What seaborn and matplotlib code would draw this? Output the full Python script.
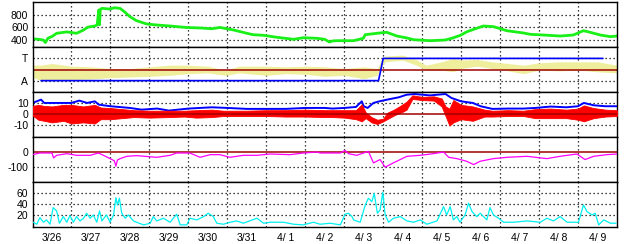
import matplotlib
matplotlib.use("Agg")
import matplotlib.pyplot as plt
import seaborn as sns

# ---------------- data (x in days since 3/26 00:00) ----------------
date_labels = ["3/26", "3/27", "3/28", "3/29", "3/30", "3/31", "4/ 1", "4/ 2",
               "4/ 3", "4/ 4", "4/ 5", "4/ 6", "4/ 7", "4/ 8", "4/ 9"]

# solar wind speed (green)
speed_t = [0.0, 0.15, 0.28, 0.33, 0.40, 0.50, 0.62, 0.88, 1.13, 1.30, 1.43, 1.60, 1.66,
           1.70, 1.72, 1.74, 1.78, 1.99, 2.10, 2.25, 2.37, 2.50, 2.67, 2.93, 3.19, 3.53,
           3.96, 4.30, 4.60, 4.81, 5.16, 5.50, 5.66, 5.93, 6.27, 6.70, 6.95, 7.30, 7.50,
           7.62, 7.70, 7.81, 8.24, 8.49, 8.54, 8.84, 9.09, 9.35, 9.61, 9.78, 10.20,
           10.59, 10.76, 10.98, 11.15, 11.40, 11.57, 11.83, 12.17, 12.60, 12.77, 13.11,
           13.54, 13.88, 14.14, 14.31, 14.57, 14.83, 15.0]
speed_v = [418, 412, 400, 360, 430, 455, 506, 528, 506, 555, 605, 621, 640,
           874, 640, 880, 900, 888, 910, 898, 840, 768, 705, 653, 637, 621,
           597, 590, 578, 598, 558, 506, 484, 474, 443, 411, 436, 427, 411,
           368, 385, 389, 389, 427, 484, 506, 522, 463, 432, 405, 389,
           400, 427, 474, 531, 585, 621, 611, 547, 511, 490, 479,
           463, 479, 547, 522, 479, 453, 463]

# IMF angle band (yellow), T = 1, A = -1
phi_t = [0.0, 0.2, 0.5, 1.0, 1.5, 2.0, 2.5, 3.0, 3.5, 4.0, 4.5, 4.95, 5.3, 6.0, 6.5,
         7.0, 7.5, 8.0, 8.5, 8.85, 8.95, 9.05, 9.5, 9.85, 10.1, 10.5, 10.8, 11.0,
         11.4, 11.8, 12.2, 12.6, 13.0, 13.5, 14.0, 14.5, 15.0]
phi_hi = [0.39, 0.39, 0.54, 0.30, 0.24, 0.09, 0.09, 0.24, 0.39, 0.39, 0.30, -0.06, 0.30,
          0.30, 0.24, 0.30, 0.24, 0.09, 0.24, 0.09, 0.85, 1.21, 1.30, 0.90, 0.39, 0.69,
          1.00, 0.85, 0.90, 0.69, 0.54, 0.39, 0.60, 0.69, 0.69, 0.69, 0.39]
phi_lo = [-0.67, -0.97, -0.91, -0.91, -0.85, -0.73, -0.67, -0.61, -0.52, -0.37, -0.30,
          -0.52, -0.30, -0.52, -0.37, -0.43, -0.61, -0.52, -0.82, -0.52, 0.24, 0.69,
          0.85, 0.39, -0.06, -0.06, -0.20, 0.09, 0.30, 0.09, -0.12, -0.37, -0.06,
          -0.12, -0.06, -0.20, -0.30]

# sector (blue step line)
sector_t = [0.22, 8.88, 9.0, 14.64]
sector_v = [-1, -1, 1, 1]

# Bt (blue)
bt_t = [0.0, 0.22, 0.30, 0.60, 1.0, 1.2, 1.4, 1.6, 1.7, 2.0, 2.5, 2.8, 3.2, 3.5, 4.0,
        4.3, 4.6, 5.0, 5.5, 6.0, 6.5, 7.0, 7.5, 7.7, 8.0, 8.3, 8.45, 8.5, 8.6, 8.75,
        8.9, 9.1, 9.4, 9.6, 9.8, 10.2, 10.6, 10.75, 11.0, 11.3, 11.5, 11.8, 12.2,
        12.6, 12.9, 13.3, 13.7, 14.0, 14.15, 14.4, 14.7, 15.0]
bt_v = [10.3, 13.4, 10.3, 10.3, 10.3, 12.5, 10.3, 11.8, 8.7, 7.2, 5.6, 4.0, 5.0, 3.1,
        5.0, 5.6, 6.2, 5.6, 4.7, 4.7, 4.7, 5.6, 5.6, 5.0, 5.6, 6.5, 11.8, 7.2, 5.6,
        10.3, 11.8, 13.4, 15.6, 18.0, 18.7, 17.4, 18.7, 15.0, 11.8, 10.3, 7.2, 4.7,
        5.0, 5.0, 5.6, 6.9, 6.2, 7.2, 10.3, 8.1, 7.2, 7.2]

# Bz band (red)
bz_t = [0.0, 0.15, 0.3, 0.5, 0.8, 1.0, 1.3, 1.6, 1.75, 2.0, 2.3, 2.6, 3.0, 3.5, 3.9,
        4.2, 4.6, 4.9, 5.5, 6.0, 6.5, 7.0, 7.5, 7.7, 8.0, 8.3, 8.45, 8.55, 8.7, 8.85,
        9.0, 9.1, 9.3, 9.5, 9.6, 9.75, 10.0, 10.3, 10.5, 10.6, 10.7, 10.8, 11.0,
        11.3, 11.6, 11.8, 12.2, 12.6, 12.9, 13.3, 13.7, 14.0, 14.15, 14.4, 14.7, 15.0]
bz_hi = [7.5, 8.5, 7.5, 7.0, 8.5, 8.5, 7.0, 8.5, 6.0, 5.5, 4.5, 3.5, 3.0, 3.0, 3.0,
         3.5, 4.0, 3.0, 3.0, 3.5, 3.5, 4.0, 3.5, 3.5, 3.5, 3.5, 9.0, 1.5, -3.0, -5.5,
         -4.5, 1.0, 4.5, 9.0, 11.5, 17.5, 16.0, 16.5, 14.5, 7.0, 5.0, 13.0, 8.5,
         7.0, 4.0, 3.0, 3.5, 3.0, 4.5, 5.0, 4.0, 5.0, 8.0, 5.5, 4.0, 3.5]
bz_lo = [-1.5, -5.5, -6.5, -8.0, -6.5, -9.0, -8.0, -9.0, -5.0, -5.0, -4.0, -3.0,
         -3.5, -3.0, -2.5, -3.5, -3.0, -2.0, -2.0, -2.0, -2.5, -2.5, -3.0, -3.0, -3.5,
         -5.0, -7.0, -4.0, -8.0, -9.5, -7.0, -5.0, -1.0, 2.0, 4.0, 14.0, 13.0, 12.5,
         7.0, -2.0, -11.0, -8.0, -5.0, -6.5, -2.5, -2.5, -2.0, -2.0, -4.0, -4.0,
         -4.0, -5.5, -7.0, -4.0, -2.5, -2.0]

# Dst (magenta)
dst_t = [0.0, 0.19, 0.45, 0.50, 0.54, 0.62, 0.88, 1.13, 1.48, 1.69, 1.82, 1.99, 2.10,
         2.14, 2.18, 2.25, 2.42, 2.67, 3.19, 3.53, 3.70, 4.04, 4.30, 4.56, 4.81, 5.07,
         5.41, 5.76, 6.10, 6.61, 6.95, 7.30, 7.38, 7.90, 8.02, 8.11, 8.32, 8.62, 8.75,
         8.92, 9.05, 9.26, 9.61, 9.95, 10.29, 10.55, 10.68, 10.89, 11.14, 11.32,
         11.49, 11.83, 12.18, 12.69, 13.20, 13.54, 13.97, 14.18, 14.40, 14.74, 15.0]
dst_v = [-19.6, -8.7, -8.7, -8.7, -41.3, -23.9, -13.0, -23.9, -23.9, -8.7, -23.9,
         -45.7, -60.0, -95.7, -55.0, -45.7, -30.4, -26.0, -37.0, -23.9, -8.7, -8.7,
         -37.0, -19.6, -19.6, -37.0, -23.9, -23.9, -15.2, -19.6, -8.7, -2.2, -8.7,
         -8.7, 8.7, -13.0, -23.9, 2.2, -74.0, -52.0, -102.0, -74.0, -30.4, -23.9,
         -13.0, -2.2, -37.0, -45.7, -63.0, -85.0, -63.0, -45.7, -37.0, -30.4, -45.7,
         -30.4, -15.2, -52.0, -30.4, -19.6, -15.2]

# activity index (cyan)
ae_t = [0.02, 0.11, 0.19, 0.28, 0.36, 0.45, 0.53, 0.62, 0.69, 0.79, 0.88, 0.96, 1.05,
        1.13, 1.22, 1.31, 1.39, 1.48, 1.56, 1.65, 1.72, 1.78, 1.90, 1.99, 2.08, 2.14,
        2.18, 2.23, 2.29, 2.38, 2.46, 2.59, 2.67, 2.85, 3.02, 3.10, 3.19, 3.36, 3.53,
        3.70, 3.79, 3.96, 4.04, 4.22, 4.39, 4.51, 4.64, 4.73, 4.90, 5.07, 5.24, 5.41,
        5.76, 5.93, 6.10, 6.44, 6.70, 6.95, 7.21, 7.38, 7.64, 7.90, 8.02, 8.11, 8.20,
        8.24, 8.41, 8.54, 8.62, 8.71, 8.77, 8.85, 8.92, 8.99, 9.05, 9.14, 9.26, 9.44,
        9.61, 9.78, 9.95, 10.12, 10.38, 10.55, 10.63, 10.72, 10.80, 10.89, 10.97,
        11.10, 11.19, 11.28, 11.40, 11.49, 11.66, 11.74, 11.83, 11.96, 12.09, 12.35,
        12.69, 13.03, 13.20, 13.37, 13.54, 13.72, 14.01, 14.14, 14.23, 14.36, 14.44,
        14.53, 14.66, 14.83, 14.98]
ae_v = [7.2, 3.6, 15.7, 7.2, 11.5, 3.6, 33.9, 27.8, 5.4, 17.5, 7.2, 19.3, 7.2,
        17.5, 9.6, 14.5, 23.6, 14.5, 20.5, 7.2, 27.8, 9.6, 20.5, 7.2, 20.5, 52.0,
        38.7, 50.9, 23.6, 14.5, 20.5, 9.6, 7.2, 2.4, 5.4, 17.5, 9.6, 14.5, 7.2,
        21.8, 2.4, 2.4, 14.5, 11.5, 17.5, 23.6, 17.5, 5.4, 3.6, 7.2, 9.6, 5.4,
        14.5, 5.4, 7.2, 7.2, 3.6, 2.4, 7.2, 3.6, 5.4, 2.4, 21.8, 23.6, 17.5,
        11.5, 7.2, 38.7, 50.9, 44.8, 60.0, 23.6, 29.6, 61.8, 20.5, 7.2, 14.5, 17.5,
        9.6, 7.2, 11.5, 3.6, 9.6, 35.7, 20.5, 35.7, 11.5, 17.5, 7.2,
        20.5, 41.8, 26.6, 17.5, 23.6, 11.5, 33.9, 20.5, 14.5, 7.2, 7.2,
        9.6, 7.2, 14.5, 9.6, 17.5, 7.2, 7.2, 38.7, 26.6, 20.5, 23.6,
        2.4, 11.5, 5.4, 5.4]

# ---------------- styling ----------------
sns.set_style("white")
plt.rcParams['font.family'] = ['Liberation Sans', 'DejaVu Sans']
plt.rcParams['axes.unicode_minus'] = False

W, H = 628, 244
fig = plt.figure(figsize=(W / 100, H / 100), dpi=100)
gs = fig.add_gridspec(5, 1, left=32.5 / W, right=617 / W,
                      top=1 - 2.3 / H, bottom=1 - 227.3 / H, hspace=0)
axes = [fig.add_subplot(gs[i]) for i in range(5)]

DOT = (0, (1.0, 2.2))
DARKRED = '#a00000'


def style(ax, ylim, yticks, ylabels, hgrid):
    ax.set_xlim(0, 15)
    ax.set_ylim(*ylim)
    for d in range(1, 15):
        ax.axvline(d, color='black', lw=0.9, ls=DOT, zorder=0)
    for h in hgrid:
        ax.axhline(h, color='black', lw=0.9, ls=DOT, zorder=0)
    ax.set_yticks(yticks)
    ax.set_yticklabels(ylabels)
    ax.tick_params(axis='both', length=0, labelsize=7.5, pad=3, colors='black')
    ax.set_xticks([])
    ax.set_xlabel('')
    ax.set_ylabel('')
    for s in ax.spines.values():
        s.set_color('black')
        s.set_linewidth(1.0)
        s.set_visible(True)


# Panel 1: speed
ax = axes[0]
sns.lineplot(x=speed_t, y=speed_v, ax=ax, color='#18f018', lw=2.0,
             estimator=None, sort=False, legend=False)
style(ax, (285, 995), [400, 600, 800], ['400', '600', '800'], [400, 600, 800])

# Panel 2: angle / sector
ax = axes[1]
ax.fill_between(phi_t, phi_lo, phi_hi, color='#eeee9c', lw=0, zorder=1)
ax.axhline(0, color=DARKRED, lw=1.1, zorder=2)
sns.lineplot(x=sector_t, y=sector_v, ax=ax, color='#0000ff', lw=1.2,
             estimator=None, sort=False, legend=False, zorder=3)
style(ax, (-2.05, 2.0), [1, -1], ['T', 'A'], [1, -1])

# Panel 3: Bt / Bz
ax = axes[2]
sns.lineplot(x=bt_t, y=bt_v, ax=ax, color='#0000ff', lw=1.4,
             estimator=None, sort=False, legend=False, zorder=2)
ax.fill_between(bz_t, bz_lo, bz_hi, color='#ff0000', lw=0.6, edgecolor='#ff0000', zorder=3)
ax.axhline(0, color=DARKRED, lw=1.1, zorder=4)
style(ax, (-22, 20.3), [10, 0, -10], ['10', '0', '-10'], [10, -10])

# Panel 4: Dst
ax = axes[3]
ax.axhline(0, color=DARKRED, lw=1.1, zorder=2)
sns.lineplot(x=dst_t, y=dst_v, ax=ax, color='#ff00ff', lw=0.9,
             estimator=None, sort=False, legend=False, zorder=3)
style(ax, (-202, 95), [0, -100], ['0', '-100'], [-100])

# Panel 5: cyan index
ax = axes[4]
sns.lineplot(x=ae_t, y=ae_v, ax=ax, color='#00f0f0', lw=0.9,
             estimator=None, sort=False, legend=False, zorder=3)
style(ax, (-2, 80), [20, 40, 60], ['20', '40', '60'], [20, 40, 60])
ax.set_xticks([i + 0.5 for i in range(len(date_labels))])
ax.set_xticklabels(date_labels)
ax.tick_params(axis='x', length=0, labelsize=7.5, pad=4)

fig.savefig('out.png', dpi=100, facecolor='white')
